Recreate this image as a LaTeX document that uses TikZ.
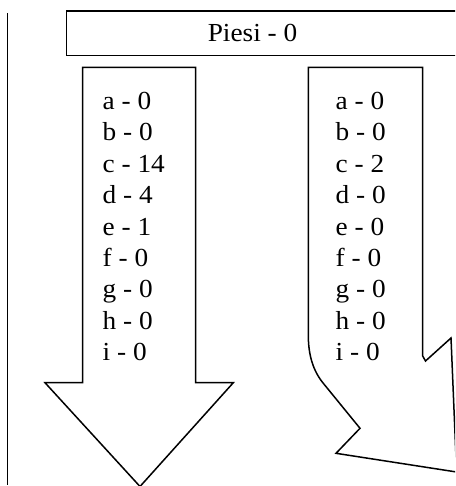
\documentclass[tikz,border=0pt]{standalone}
\usepackage{fontspec}
\newfontfamily\lblfont{Liberation Serif}[FakeStretch=1.05]
\begin{document}
\begin{tikzpicture}[x=1pt,y=-1pt,
  outline/.style={draw=black,line width=1.5pt,fill=white,line join=miter},
  lbl/.style={inner sep=0pt,font=\lblfont\fontsize{26}{28}\selectfont}]
\useasboundingbox (0,0) rectangle (455,486);
\clip (0,0) rectangle (455,486);
% left vertical rule
\coordinate (vtop) at (7.3,13.3);
\coordinate (vbot) at (7.3,485);
\draw[line width=1.5pt] (vtop) -- (vbot);
% top box
\draw[outline] (66.7,11) rectangle (470,55.7);
\node[lbl,anchor=base] (piesi) at (252.5,42) {Piesi - 0};
% left arrow
\draw[outline] (82.7,67.3) -- (195.7,67.3) -- (195.7,382.7) -- (233.3,382.7)
  -- (140,486.5) -- (45,382.7) -- (82.7,382.7) -- cycle;
% right bent arrow
\draw[outline] (308.3,67.3) -- (422.7,67.3) -- (422.7,356) -- (425.5,361)
  -- (451,338) -- (456.6,472) -- (336,453.3) -- (360,428.3) -- (323.3,383.3)
  .. controls (313,370.7) and (308.3,355) .. (308.3,335) -- cycle;
% lists
\foreach \t [count=\i] in {a - 0,b - 0,c - 14,d - 4,e - 1,f - 0,g - 0,h - 0,i - 0}
  \node[lbl,anchor=base west] (l\i) at (102.5,{109.5+31.375*(\i-1)}) {\t};
\foreach \t [count=\i] in {a - 0,b - 0,c - 2,d - 0,e - 0,f - 0,g - 0,h - 0,i - 0}
  \node[lbl,anchor=base west] (r\i) at (335.5,{109.5+31.375*(\i-1)}) {\t};
\end{tikzpicture}
\end{document}
